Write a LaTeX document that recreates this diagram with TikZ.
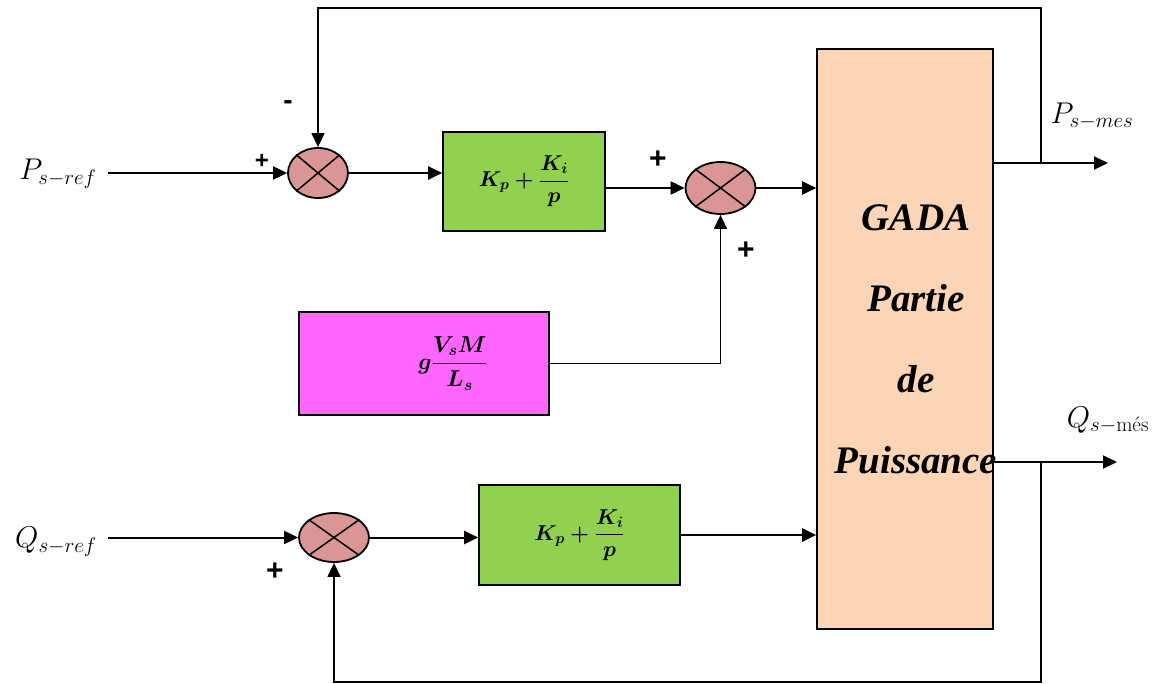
\RequirePackage{fix-cm}
\documentclass[tikz,border=0pt]{standalone}
\usepackage{fontspec}
\usepackage{amsmath}
\usetikzlibrary{shapes.geometric,arrows.meta}
\newfontfamily\gadafont{Liberation Serif}
\newfontfamily\signfont{Liberation Sans}
\definecolor{sum area}{HTML}{D99694}
\definecolor{pi area}{HTML}{92D050}
\definecolor{gain area}{HTML}{FF66FF}
\definecolor{gada area}{HTML}{FBD5B5}
\colorlet{block edge}{black}
\tikzset{sum/.style={ellipse, draw=block edge, line width=1.8pt, fill=sum area,
        minimum width=70pt, minimum height=50pt, inner sep=0pt},
      block/.style={rectangle, draw=block edge, line width=1.6pt, inner sep=0pt},
      signal/.style={line width=2pt, -{Triangle[length=14pt,width=13pt]}},
      loop/.style={line width=1.4pt, -{Triangle[length=14pt,width=13pt]}},
      sign/.style={inner sep=0pt, font=\signfont\bfseries\fontsize{30}{32}\selectfont},
      varlabel/.style={font=\fontsize{30}{32}\selectfont},
      formula/.style={font=\fontsize{21.5}{24}\selectfont\boldmath}}

\begin{document}
\begin{tikzpicture}[x=1pt,y=-1pt]
\useasboundingbox (0,0) rectangle (1160,684);
% summing points
\node[sum, minimum width=60pt] (s1) at (318,173) {};
\node[sum, minimum height=52pt] (s2) at (720.5,188) {};
\node[sum, minimum height=49pt] (s3) at (334,537.5) {};
\foreach \s in {s1,s2,s3}
  {\draw[line width=1.5pt] (\s.north west) -- (\s.south east)
                           (\s.north east) -- (\s.south west);}
% blocks
\node[block, formula, fill=pi area, minimum width=162pt, minimum height=99pt]
      (pi1) at (524,181.5) {$K_p+\dfrac{K_i}{p}$};
\node[block, formula, fill=pi area, minimum width=201pt, minimum height=100pt]
      (pi2) at (579.5,535) {$K_p+\dfrac{K_i}{p}$};
\node[block, formula, fill=gain area, minimum width=250pt, minimum height=103pt,
      font=\fontsize{23}{26}\selectfont\boldmath]
      (gain) at (424,363.5) {\hspace*{58pt}$g\dfrac{V_sM}{L_s}$};
\node[block, fill=gada area, minimum width=176pt, minimum height=580pt,
      label={[xshift=11pt, align=center,
              font=\gadafont\bfseries\itshape\fontsize{39}{81}\selectfont]center:GADA\\Partie\\de\\Puissance}]
      (gada) at (905,339) {};
% inputs and outputs
\node[varlabel] (pref) at (58,174) {$P_{s-ref}$};
\node[varlabel] (qref) at (56,542) {$Q_{s-ref}$};
\node[varlabel] (pmes) at (1092,116) {$P_{s-mes}$};
\node[varlabel] (qmes) at (1108,420) {$Q_{s-\text{més}}$};
\coordinate (pout) at (1108,163);
\coordinate (qout) at (1117,462);
\coordinate (ptap) at (1041,163);
\coordinate (qtap) at (1041,462);
% connectors
\draw[signal, shorten <=8pt] (pref.east |- s1.west) -- (s1.west);
\draw[signal] (s1.east) -- (s1.east -| pi1.west);
\draw[signal] (pi1.east |- s2.west) -- (s2.west);
\draw[signal] (s2.east) -- (s2.east -| gada.west);
\draw[loop] (gain.east) -| (s2.south);
\draw[signal] (gada.east |- pout) -- (pout);
\draw[loop] (ptap) -- ++(0,-155) -| (s1.north);
\draw[signal, shorten <=8pt] (qref.east |- s3.west) -- (s3.west);
\draw[signal] (s3.east) -- (s3.east -| pi2.west);
\draw[signal] (pi2.east) -- (pi2.east -| gada.west);
\draw[signal] (gada.east |- qout) -- (qout);
\draw[loop] (qtap) -- ++(0,220) -| (s3.south);
% signs
\node[sign, font=\signfont\bfseries\fontsize{28}{30}\selectfont] (m1) at (288,105) {-};
\node[sign, font=\signfont\bfseries\fontsize{24}{26}\selectfont] (p1) at (262,161) {+};
\node[sign] (p2) at (658,160) {+};
\node[sign] (p3) at (746,251) {+};
\node[sign] (p4) at (275,572) {+};
\end{tikzpicture}
\end{document}
